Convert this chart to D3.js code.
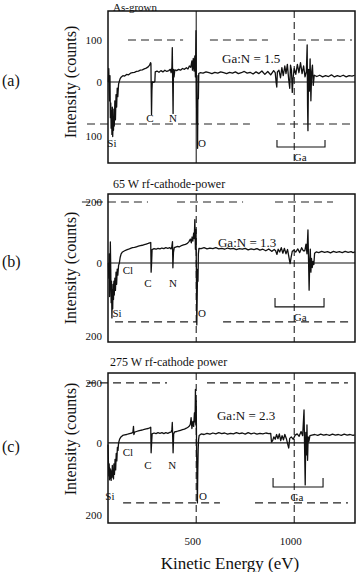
<!DOCTYPE html>
<html>
<head>
<meta charset="utf-8">
<script src="https://cdn.jsdelivr.net/npm/d3@7"></script>
<style>
body { margin: 0; background: #fff; }
text { font-family: "Liberation Serif", "DejaVu Serif", serif; fill: #111; }
</style>
</head>
<body>
<div id="chart"></div>
<script>
// spectra: [kinetic energy (eV), intensity (counts)]
var asGrown = [[52,0],[54,32],[56,-20],[58,-45],[60,15],[62,-85],[64,-50],[66,-110],[68,-70],[70,-125],[72,-60],[74,-130],[76,-90],[78,-115],[80,-65],[82,-105],[85,-45],[88,-90],[91,-30],[94,-60],[97,-15],[100,-35],[104,-5],[108,2],[112,8],[118,12],[126,15],[135,14],[145,18],[155,17],[165,21],[175,22],[185,23],[195,25],[205,26],[215,28],[225,29],[235,31],[245,33],[255,36],[262,40],[267,46],[269,44],[270,2],[272,-78],[274,-20],[276,0],[283,-1],[289,1],[291,24],[300,26],[310,23],[320,27],[330,24],[340,28],[350,25],[360,27],[368,30],[372,22],[376,35],[378,82],[380,-5],[382,-75],[384,30],[387,12],[391,29],[400,27],[410,30],[420,28],[430,32],[440,30],[450,34],[458,31],[465,38],[472,35],[478,50],[481,28],[485,56],[489,26],[493,62],[496,12],[499,122],[501,-20],[503,-100],[505,-40],[507,-158],[509,15],[511,-40],[513,20],[520,22],[535,21],[550,24],[565,22],[580,20],[595,23],[610,21],[625,24],[640,22],[655,20],[670,23],[685,21],[700,24],[715,20],[730,22],[745,25],[760,21],[775,23],[790,19],[805,24],[820,20],[835,26],[850,18],[865,25],[880,17],[895,27],[903,22],[908,-2],[911,-12],[914,24],[922,28],[930,10],[937,34],[944,15],[952,38],[958,20],[965,42],[972,5],[977,-15],[981,40],[986,28],[990,-25],[994,8],[1000,32],[1008,18],[1016,42],[1024,22],[1032,46],[1040,20],[1048,38],[1055,12],[1062,25],[1066,88],[1068,-55],[1070,-116],[1073,30],[1077,-22],[1081,55],[1085,-45],[1089,25],[1093,40],[1097,-8],[1102,16],[1115,13],[1130,16],[1145,12],[1160,15],[1175,13],[1190,17],[1205,12],[1220,15],[1235,13],[1250,16],[1265,12],[1280,15],[1295,14],[1308,16]];

var w65 = [[52,0],[54,-50],[56,30],[58,-110],[60,-40],[62,69],[64,-20],[66,-130],[68,-60],[70,-180],[72,-90],[74,-150],[76,-70],[78,-120],[80,-60],[82,-105],[85,-50],[88,-90],[91,-30],[94,-70],[97,-20],[100,-40],[104,-8],[108,0],[112,18],[117,30],[124,36],[135,40],[145,43],[155,45],[165,48],[175,50],[185,51],[195,53],[205,55],[215,57],[225,58],[235,60],[245,62],[255,64],[263,66],[268,67],[270,-30],[272,-5],[275,44],[285,47],[295,45],[305,48],[315,46],[325,49],[335,47],[345,50],[355,48],[365,50],[372,46],[376,55],[379,70],[381,-16],[384,35],[388,50],[395,52],[405,54],[415,53],[425,57],[435,59],[445,61],[455,64],[463,70],[470,78],[475,66],[479,85],[483,72],[487,98],[490,80],[493,142],[496,45],[499,110],[501,-40],[503,-203],[505,-110],[507,-20],[509,-60],[511,30],[514,48],[525,47],[540,50],[555,46],[570,49],[585,47],[600,50],[615,46],[630,48],[645,45],[660,49],[675,46],[690,48],[705,44],[720,47],[735,45],[750,48],[765,43],[780,46],[795,44],[810,47],[825,42],[840,45],[855,40],[870,46],[885,38],[898,44],[905,40],[912,28],[918,45],[926,36],[934,50],[942,32],[950,48],[958,30],[966,44],[974,15],[979,-2],[984,18],[990,38],[998,42],[1008,36],[1018,46],[1028,34],[1038,50],[1046,40],[1054,40],[1060,62],[1065,30],[1070,108],[1073,10],[1076,-89],[1079,5],[1082,45],[1085,-30],[1088,15],[1092,-15],[1096,5],[1100,-5],[1104,32],[1112,36],[1125,34],[1140,38],[1155,35],[1170,37],[1185,33],[1200,38],[1215,35],[1230,37],[1245,34],[1260,38],[1275,35],[1290,37],[1300,34],[1310,36]];

var w275 = [[50,-5],[52,-60],[54,-110],[56,-70],[58,-123],[60,-85],[62,-118],[64,-90],[66,-125],[68,-95],[70,-115],[72,-75],[74,-110],[76,-100],[78,-120],[80,-70],[83,-105],[86,-55],[89,-90],[92,-35],[95,-60],[98,-15],[101,-25],[104,0],[109,12],[116,20],[125,25],[135,27],[145,28],[155,30],[165,32],[172,33],[177,35],[180,55],[182,28],[186,36],[195,38],[205,40],[215,42],[225,43],[235,45],[245,47],[255,48],[263,50],[268,52],[270,-33],[272,-5],[275,30],[285,33],[295,31],[305,34],[315,32],[325,34],[335,31],[345,34],[355,32],[365,35],[372,36],[376,45],[378,68],[380,20],[382,-33],[385,30],[390,37],[400,38],[410,40],[420,42],[430,44],[440,46],[450,49],[458,52],[465,56],[470,62],[474,84],[478,48],[483,72],[487,55],[491,100],[494,70],[496,178],[498,60],[500,140],[502,-30],[504,-110],[506,-200],[508,-95],[510,-20],[512,10],[515,25],[525,30],[540,28],[555,32],[570,29],[585,33],[600,30],[615,34],[630,31],[645,33],[660,29],[675,32],[690,30],[705,34],[720,31],[735,33],[750,29],[765,34],[780,30],[795,33],[810,29],[825,32],[840,30],[855,33],[870,31],[880,32],[884,3],[890,8],[896,20],[903,12],[910,28],[917,14],[924,30],[931,8],[938,24],[945,10],[952,28],[960,14],[967,-5],[972,-17],[977,15],[985,20],[995,12],[1005,26],[1015,30],[1025,22],[1035,38],[1043,24],[1050,110],[1053,-20],[1056,-140],[1059,35],[1062,-40],[1065,60],[1068,-58],[1071,20],[1075,5],[1080,24],[1090,26],[1105,28],[1120,25],[1135,29],[1150,26],[1165,28],[1180,25],[1195,29],[1210,26],[1225,28],[1240,25],[1255,29],[1270,26],[1285,28],[1300,25],[1308,27]];

// dashed reference lines: [intensity, energy from, energy to]
var guidesA = [[100,152,433],[100,570,866],[100,1019,1295],[-100,-57,774],[-100,912,1300]];
var guidesB = [[200,-83,254],[200,402,739],[200,902,1198],[-193,86,504],[-193,637,1285]];
var guidesC = [[200,-57,351],[200,555,979],[200,1055,1274],[-200,127,621],[-200,800,1274]];

// peak labels: [text, energy, intensity]
var peaksA = [["Si",70,-145],["C",264,-86],["N",382,-86],["O",530,-145],["Ga",1030,-179]];
var peaksB = [["Si",96,-164],["Cl",152,-23],["C",254,-66],["N",382,-66],["O",530,-164],["Ga",1030,-177]];
var peaksC = [["Si",60,-177],["Cl",152,-30],["C",254,-73],["N",377,-73],["O",535,-177],["Ga",1014,-180]];

// Ga bracket: [energy from, energy to, intensity, tick top]
var bracketA = [912,1157,-155,-138];
var bracketB = [902,1152,-144,-115];
var bracketC = [892,1147,-147,-117];

var yTicksA = [100, 0, -100];
var yTicksB = [200, 0, -200];
var yTicksC = [200, 0, -200];
var xTicks = [500, 1000];

var panels = [
  {title:"As-grown", tag:"(a)", ratio:"Ga:N = 1.5", ratioAt:[632,57], data:asGrown, guides:guidesA, peaks:peaksA, bracket:bracketA, ticks:yTicksA,
   dom:[-193,169], top:11, bottom:163, titleY:11, titleX:113, tagY:86, labelMid:82, solid500:true},
  {title:"65 W rf-cathode-power", tag:"(b)", ratio:"Ga:N = 1.3", ratioAt:[611,66], data:w65, guides:guidesB, peaks:peaksB, bracket:bracketB, ticks:yTicksB,
   dom:[-259,226], top:194, bottom:342, titleY:188, titleX:113, tagY:267, labelMid:268},
  {title:"275 W rf-cathode power", tag:"(c)", ratio:"Ga:N = 2.3", ratioAt:[606,93], data:w275, guides:guidesC, peaks:peaksC, bracket:bracketC, ticks:yTicksC,
   dom:[-267,233], top:373, bottom:523, titleY:366, titleX:110, tagY:452, labelMid:439}
];

var svg = d3.select("#chart").append("svg")
    .attr("width", 360)
    .attr("height", 572);

var x = d3.scaleLinear()
    .domain([50, 1310])
    .range([108, 355]);

panels.forEach(function(p, i) {
  var y = d3.scaleLinear().domain(p.dom).range([p.bottom, p.top]);
  var g = svg.append("g");

  // dashed guides
  g.selectAll(".guide").data(p.guides).enter().append("line")
    .attr("x1", d => x(d[1])).attr("x2", d => x(d[2]))
    .attr("y1", d => y(d[0])).attr("y2", d => y(d[0]))
    .attr("stroke", "#222").attr("stroke-width", 1.1)
    .attr("stroke-dasharray", "8,5");

  // 500 / 1000 eV verticals
  g.selectAll(".vline").data(xTicks).enter().append("line")
    .attr("x1", d => x(d)).attr("x2", d => x(d))
    .attr("y1", p.top).attr("y2", p.bottom)
    .attr("stroke", "#222").attr("stroke-width", 1.1)
    .attr("stroke-dasharray", d => (d == 500 && p.solid500) ? null : "7,4");

  // zero line
  g.append("line")
    .attr("x1", x(50)).attr("x2", x(1310))
    .attr("y1", y(0)).attr("y2", y(0))
    .attr("stroke", "#111").attr("stroke-width", 1.1);

  // spectrum
  g.append("path")
    .datum(p.data)
    .attr("d", d3.line().x(d => x(d[0])).y(d => y(d[1])))
    .attr("fill", "none")
    .attr("stroke", "#111")
    .attr("stroke-width", 1.3)
    .attr("stroke-linejoin", "round");

  // frame
  g.append("rect")
    .attr("x", x(50)).attr("y", p.top)
    .attr("width", x(1310) - x(50)).attr("height", p.bottom - p.top)
    .attr("fill", "none").attr("stroke", "#111").attr("stroke-width", 1.5);

  // Ga bracket
  var b = p.bracket;
  g.append("path")
    .attr("d", "M" + x(b[0]) + "," + y(b[3]) + "V" + y(b[2]) + "H" + x(b[1]) + "V" + y(b[3]))
    .attr("fill", "none").attr("stroke", "#111").attr("stroke-width", 1.1);

  // peak labels
  g.selectAll(".peak").data(p.peaks).enter().append("text")
    .attr("x", d => x(d[1])).attr("y", d => y(d[2]))
    .attr("dy", "0.35em")
    .attr("text-anchor", "middle")
    .attr("font-size", "11px")
    .text(d => d[0]);

  g.append("text")
    .attr("x", x(p.ratioAt[0])).attr("y", y(p.ratioAt[1]))
    .attr("dy", "0.35em")
    .attr("font-size", "13px")
    .text(p.ratio);

  // y tick labels
  var ya = g.append("g")
    .attr("transform", "translate(102,0)")
    .call(d3.axisLeft(y).tickValues(p.ticks).tickSize(0).tickPadding(0)
      .tickFormat(d => Math.abs(d)));
  ya.select(".domain").remove();
  ya.selectAll("text")
    .attr("font-family", "Liberation Serif, serif")
    .attr("font-size", "11px")
    .attr("fill", "#111");
  ya.selectAll(".tick").filter(d => d < 0).select("text").attr("y", 12);

  // titles
  g.append("text")
    .attr("x", p.titleX).attr("y", p.titleY)
    .attr("font-size", i == 0 ? "11px" : "12px")
    .text(p.title);

  g.append("text")
    .attr("x", 2).attr("y", p.tagY)
    .attr("font-size", "16px")
    .text(p.tag);

  g.append("text")
    .attr("transform", "translate(76," + p.labelMid + ") rotate(-90)")
    .attr("text-anchor", "middle")
    .attr("font-size", "16px")
    .text("Intensity (counts)");

  if (i == 2) {
    var xa = g.append("g")
      .attr("transform", "translate(-4," + p.bottom + ")")
      .call(d3.axisBottom(x).tickValues(xTicks).tickSize(0).tickPadding(14)
        .tickFormat(d3.format("d")));
    xa.select(".domain").remove();
    xa.selectAll("text")
      .attr("font-family", "Liberation Serif, serif")
      .attr("font-size", "11px")
      .attr("fill", "#111");
  }
});

svg.append("text")
  .attr("x", 230).attr("y", 569)
  .attr("text-anchor", "middle")
  .attr("font-size", "17px")
  .text("Kinetic Energy (eV)");
</script>
</body>
</html>
